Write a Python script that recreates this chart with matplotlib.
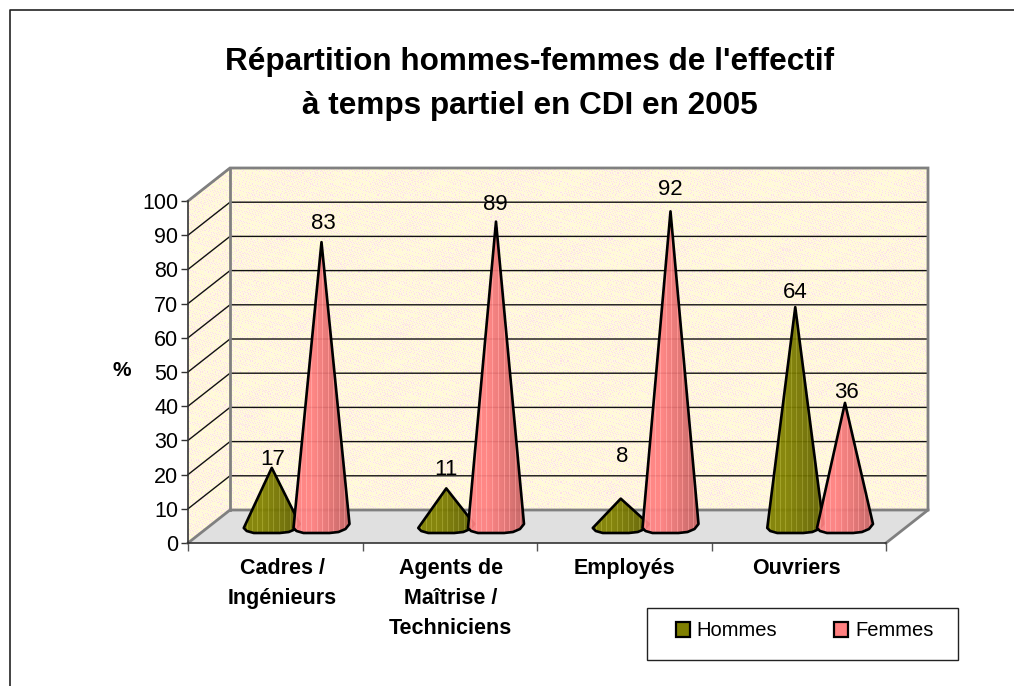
"""Répartition hommes-femmes, cônes en pseudo-3D façon Excel."""
import numpy as np
import matplotlib
matplotlib.use("Agg")
import matplotlib.pyplot as plt
from matplotlib.patches import Polygon, Rectangle, Patch
from matplotlib.lines import Line2D

plt.rcParams["font.family"] = ["Liberation Sans", "DejaVu Sans"]

categories = ["Cadres /\nIngénieurs", "Agents de\nMaîtrise /\nTechniciens", "Employés", "Ouvriers"]
hommes = [17, 11, 8, 64]
femmes = [83, 89, 92, 36]
y_ticks = list(range(0, 101, 10))
series_names = ["Hommes", "Femmes"]

# échelle en pixels de la figure
W, H = 1014, 686
X0, Y0 = 188, 543
PX_CAT, PX_PCT = 174.5, 3.42
DX, DY = 42 / PX_CAT, 33 / PX_PCT
BASE_Y = 17 / PX_PCT  # plan des cônes au-dessus de l'axe avant

# contour de la base (px, relatif au sommet en x et au plan en y)
BASE = [(-28, -2), (-25, -5), (-18, -7), (0, -7), (8, -7), (17, -6), (24, -3), (28, 2)]
OFFSETS = [0.48, 0.765]
STREAKS = [3, 8, 13, 18, 24, 29, 35, 40, 46, 51]
# décalage des étiquettes (dx, dy) en px
LABEL_H = [(1, 8), (0, 19), (1, 42), (0, 15)]
LABEL_F = [(2, 19), (-1, 17), (0, 22), (1, 10)]


def wall_texture(h=342, w=740):
    # grain pixel à pixel: jaune pâle, crème et points roses
    yy, xx = np.mgrid[0:h, 0:w]
    tex = np.empty((h, w, 3), float)
    tex[:] = (255, 250, 214)
    grain = np.sin(xx * 1.73 + yy * 0.91) * np.sin(xx * 0.77 - yy * 2.13) + 0.4 * np.sin(xx * 2.9 + yy * 3.7)
    mott = np.sin(xx / 17.0 + np.sin(yy / 11.0) * 2) * np.cos(yy / 23.0)
    tex[grain < -0.35] = (255, 247, 230)
    tex[grain + 0.15 * mott > 0.55] = (252, 224, 232)
    return tex.astype(np.uint8)


def cone_shade(color, n=56):
    c = np.array(matplotlib.colors.to_rgb(color))
    t = np.linspace(0, 1, n)
    k = 1.0 - 0.24 * np.clip((t - 0.35) / 0.65, 0, 1)
    row = c[None, :] * k[:, None]
    # facettes claires
    row[STREAKS] = np.clip(row[STREAKS] + 0.11, 0, 1)
    return row[None, :, :]


def draw_cone(ax, x, val, color, z):
    pts = [(x + px / PX_CAT, BASE_Y + py / PX_PCT) for px, py in BASE]
    pts.append((x, val + BASE_Y))
    poly = Polygon(pts, closed=True, fc="none", ec="black", lw=1.9, joinstyle="round", zorder=z + 0.05)
    ax.add_patch(poly)
    xs = [p[0] for p in pts]
    im = ax.imshow(cone_shade(color), extent=(min(xs), max(xs), 0, val + BASE_Y),
                   aspect="auto", interpolation="nearest", zorder=z, alpha=0.94)
    im.set_clip_path(poly)


fig = plt.figure(figsize=(W / 100, H / 100), dpi=100)
ax = fig.add_axes([0, 0, 1, 1])
ax.patch.set_alpha(0)

# cadre du graphique (pas de bord droit ni bas dans l'image)
fig.add_artist(Line2D([9.5 / W, 9.5 / W, 1], [0, 1 - 9.5 / H, 1 - 9.5 / H],
                      color="#222222", lw=1.2))

x_end = len(categories)
top = y_ticks[-1]
back = Polygon([(DX, DY), (x_end + DX, DY), (x_end + DX, top + DY), (DX, top + DY)], closed=True, fc="none", ec="none")
left = Polygon([(0, 0), (DX, DY), (DX, top + DY), (0, top)], closed=True, fc="none", ec="none")
floor = Polygon([(0, 0), (x_end, 0), (x_end + DX, DY), (DX, DY)], closed=True, fc="#E0E0E0", ec="none", zorder=1)
ax.add_patch(back)
ax.add_patch(left)
ax.add_patch(floor)
tex = wall_texture()
for clip in (back, left):
    im = ax.imshow(tex, extent=(0, x_end + DX, 0, top + DY), aspect="auto", interpolation="nearest", zorder=0.5)
    im.set_clip_path(clip)

# quadrillage
for t in y_ticks[1:]:
    ax.plot([0, DX, x_end + DX], [t, t + DY, t + DY], color="#111111", lw=1.0, zorder=1.5)

# contours gris des parois
wall_kw = dict(color="#808080", lw=2.0, zorder=2, solid_joinstyle="miter")
ax.plot([0, DX, x_end + DX, x_end + DX, x_end], [top, top + DY, top + DY, DY, 0], **wall_kw)
ax.plot([DX, DX], [DY, top + DY], **wall_kw)
ax.plot([0, DX, x_end + DX], [0, DY, DY], **wall_kw)

for i in range(len(categories)):
    draw_cone(ax, i + OFFSETS[0], hommes[i], "#808000", 4 + i * 0.2)
    draw_cone(ax, i + OFFSETS[1], femmes[i], "#FF8080", 4.1 + i * 0.2)
    for off, val, (dx, dy) in ((OFFSETS[0], hommes[i], LABEL_H[i]), (OFFSETS[1], femmes[i], LABEL_F[i])):
        ax.annotate(str(val), (i + off, val + BASE_Y), xytext=(dx * 0.72, dy * 0.72),
                    textcoords="offset points", ha="center", va="center", fontsize=16, zorder=6)

# axes
ax.set_xlim(-X0 / PX_CAT, (W - X0) / PX_CAT)
ax.set_ylim((Y0 - H) / PX_PCT, Y0 / PX_PCT)
for s in ("top", "right"):
    ax.spines[s].set_visible(False)
ax.spines["left"].set_position(("data", 0))
ax.spines["bottom"].set_position(("data", 0))
ax.spines["left"].set_bounds(0, top)
ax.spines["bottom"].set_bounds(0, x_end)
for s in ("left", "bottom"):
    ax.spines[s].set_color("#333333")
    ax.spines[s].set_linewidth(1.2)
    ax.spines[s].set_zorder(3)
ax.set_yticks(y_ticks)
ax.set_xticks(range(x_end + 1))
ax.set_xticklabels([])
ax.tick_params(axis="y", length=5, width=1.0, labelsize=15.5, pad=2, color="#333333")
ax.tick_params(axis="x", length=6, width=1.0, color="#555555")

cat_shift = [-1 / PX_CAT + 8 / PX_CAT, 1 / PX_CAT, 0, -2 / PX_CAT]
for i, lab in enumerate(categories):
    ax.text(i + 0.5 + cat_shift[i], -4.4, lab, ha="center", va="top", fontsize=15.5,
            fontweight="bold", linespacing=1.56)
ax.text((122 - X0) / PX_CAT, (Y0 - 371) / PX_PCT, "%", ha="center", va="center", fontsize=15, fontweight="bold")

fig.text(530 / W, 1 - 62 / H, "Répartition hommes-femmes de l'effectif", ha="center", va="center",
         fontsize=22.7, fontweight="bold")
fig.text(530 / W, 1 - 106 / H, "à temps partiel en CDI en 2005", ha="center", va="center",
         fontsize=22.7, fontweight="bold")

# légende
fig.add_artist(Rectangle((647 / W, 1 - 660 / H), 311 / W, 52 / H, transform=fig.transFigure,
                         fc="white", ec="#222222", lw=1.0, zorder=6))
handles = [Patch(fc="#808000", ec="black", lw=1.6), Patch(fc="#FF8080", ec="black", lw=1.6)]
leg = fig.legend(handles, series_names, ncol=2, loc="center", bbox_to_anchor=(804.5 / W, 1 - 631 / H),
                 frameon=False, fontsize=14.5, handlelength=0.7, handleheight=0.7,
                 handletextpad=0.35, columnspacing=2.8, borderpad=0, borderaxespad=0)
leg.set_zorder(7)

fig.savefig("out.png", dpi=100)
